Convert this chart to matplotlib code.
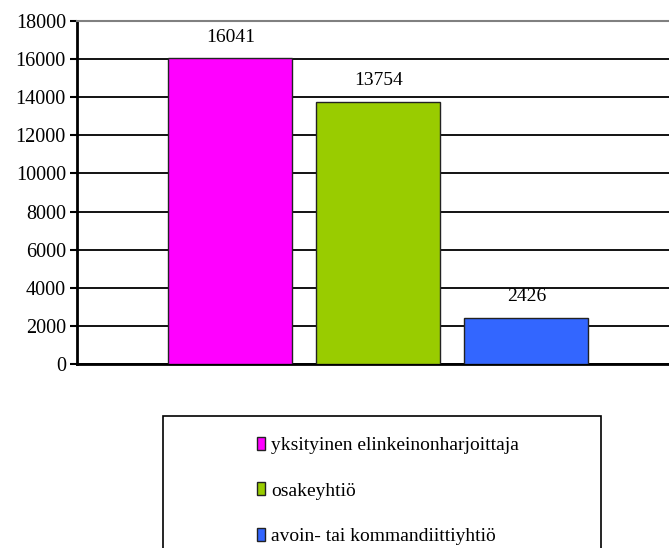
import matplotlib.pyplot as plt
from matplotlib.patches import Rectangle

categories = ['yksityinen elinkeinonharjoittaja', 'osakeyhtiö', 'avoin- tai kommandiittiyhtiö']
values = [16041, 13754, 2426]
colors = ['#FF00FF', '#99CC00', '#3366FF']
yticks = list(range(0, 18001, 2000))

plt.rcParams['font.family'] = ['Liberation Serif', 'DejaVu Serif']

fig = plt.figure(figsize=(6.69, 5.48), dpi=100)
ax = fig.add_axes([0.1151, 0.3358, 0.8849, 0.6259])

xs = [0, 1, 2]
bars = ax.bar(xs, values, width=0.838, color=colors, edgecolor='#222222', linewidth=1, zorder=3)
for x, v in zip(xs, values):
    ax.annotate(str(v), (x, v), xytext=(0, 9), textcoords='offset points',
                ha='center', va='bottom', fontsize=14)

ax.set_ylim(0, 18000)
ax.set_xlim(-1.037, 2.963)
ax.set_yticks(yticks)
ax.set_yticklabels([str(t) for t in yticks], fontsize=14.5)
ax.set_xticks([])
ax.yaxis.grid(True, color='black', linewidth=1.3, zorder=0)
ax.set_axisbelow(True)
ax.spines['right'].set_visible(False)
ax.spines['top'].set_color('#808080')
ax.spines['top'].set_linewidth(1.5)
ax.spines['left'].set_linewidth(2)
ax.spines['bottom'].set_linewidth(2)
ax.tick_params(axis='y', direction='out', length=5, width=1.5, pad=3)

# legend frame runs past the bottom of the figure
fig.patches.append(Rectangle((163 / 669, -0.05), (601 - 163) / 669, 0.05 + (548 - 416) / 548,
                             transform=fig.transFigure, fill=False, edgecolor='black', linewidth=1.2))
fig.legend(bars, categories, loc='upper left', bbox_to_anchor=(247 / 669, 1 - 427 / 548),
           frameon=False, fontsize=14, handlelength=0.45, handleheight=0.65, handletextpad=0.3,
           labelspacing=1.45, borderpad=0)

fig.savefig('out.png', dpi=100)
